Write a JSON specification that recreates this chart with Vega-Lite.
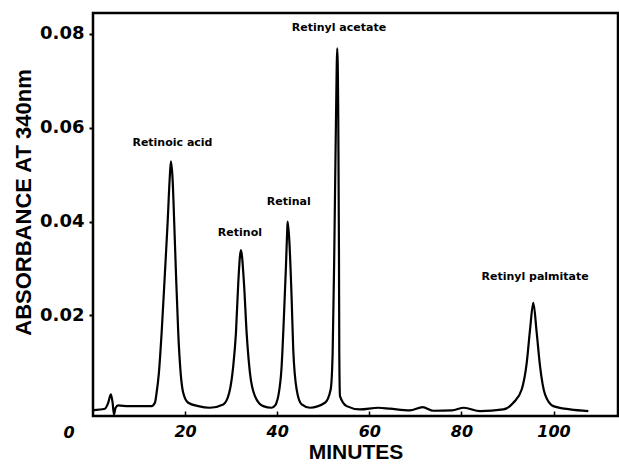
{
  "$schema": "https://vega.github.io/schema/vega-lite/v6.json",
  "width": 525,
  "height": 403,
  "autosize": {"type": "none"},
  "padding": {"left": 93, "top": 13, "right": 1, "bottom": 48},
  "background": "white",
  "config": {
    "view": {"stroke": "black", "strokeWidth": 2.5},
    "axis": {"grid": false, "domain": false}
  },
  "layer": [
    {
      "data": {
        "values": [
          {"t": 0.04, "a": -0.00015}, {"t": 2.58, "a": 0.00015}, {"t": 3.3, "a": 0.00142},
          {"t": 3.89, "a": 0.00319}, {"t": 4.26, "a": 0.00142}, {"t": 4.54, "a": -0.00106},
          {"t": 4.91, "a": 0.00036}, {"t": 5.47, "a": 0.00085}, {"t": 7.65, "a": 0.0007},
          {"t": 12.73, "a": 0.0007}, {"t": 13.44, "a": 0.00142}, {"t": 13.81, "a": 0.00355},
          {"t": 14.31, "a": 0.0078}, {"t": 14.9, "a": 0.0163}, {"t": 15.62, "a": 0.0291},
          {"t": 16.2, "a": 0.0397}, {"t": 16.64, "a": 0.0489}, {"t": 16.92, "a": 0.0528},
          {"t": 17.29, "a": 0.0489}, {"t": 17.64, "a": 0.0397}, {"t": 18.01, "a": 0.0291},
          {"t": 18.51, "a": 0.0163}, {"t": 19.03, "a": 0.0078}, {"t": 19.59, "a": 0.00355},
          {"t": 20.68, "a": 0.00142}, {"t": 22.85, "a": 0.0007}, {"t": 25.39, "a": 0.00036},
          {"t": 28.28, "a": 0.00106}, {"t": 29.58, "a": 0.00355}, {"t": 30.45, "a": 0.0092},
          {"t": 31.04, "a": 0.0163}, {"t": 31.54, "a": 0.0269}, {"t": 32.12, "a": 0.0339},
          {"t": 32.78, "a": 0.0269}, {"t": 33.36, "a": 0.0163}, {"t": 34.08, "a": 0.0078},
          {"t": 35.17, "a": 0.00283}, {"t": 36.97, "a": 0.0007}, {"t": 38.79, "a": 0.00036},
          {"t": 39.6, "a": 0.0009}, {"t": 39.9, "a": 0.0016}, {"t": 40.23, "a": 0.00283},
          {"t": 40.96, "a": 0.0092}, {"t": 41.46, "a": 0.0198}, {"t": 41.9, "a": 0.0305},
          {"t": 42.18, "a": 0.0383}, {"t": 42.27, "a": 0.04}, {"t": 42.62, "a": 0.0361},
          {"t": 43.14, "a": 0.0234}, {"t": 43.48, "a": 0.0128}, {"t": 44.22, "a": 0.00425},
          {"t": 45.31, "a": 0.00106}, {"t": 47.11, "a": 0.00036}, {"t": 50.37, "a": 0.00142},
          {"t": 51.61, "a": 0.00425}, {"t": 52.04, "a": 0.0121}, {"t": 52.39, "a": 0.0333},
          {"t": 52.76, "a": 0.0617}, {"t": 53.04, "a": 0.0769}, {"t": 53.26, "a": 0.0617},
          {"t": 53.41, "a": 0.0333}, {"t": 53.48, "a": 0.0121}, {"t": 53.63, "a": 0.00283},
          {"t": 55.08, "a": 0.0007}, {"t": 57.97, "a": 0.0}, {"t": 61.95, "a": 0.00036},
          {"t": 64.49, "a": 0.00015}, {"t": 68.8, "a": -0.0002}, {"t": 71.59, "a": 0.00049},
          {"t": 73.89, "a": -0.00028}, {"t": 77.95, "a": -0.0002}, {"t": 80.56, "a": 0.00036},
          {"t": 84.03, "a": -0.00036}, {"t": 89.1, "a": 0.0}, {"t": 91.27, "a": 0.00142},
          {"t": 93.09, "a": 0.00425}, {"t": 94.18, "a": 0.0099}, {"t": 94.9, "a": 0.017},
          {"t": 95.61, "a": 0.0227}, {"t": 96.35, "a": 0.0163}, {"t": 97.07, "a": 0.0092},
          {"t": 98.15, "a": 0.0032}, {"t": 99.96, "a": 0.0007}, {"t": 103.58, "a": 0.0},
          {"t": 107.56, "a": -0.00036}
        ]
      },
      "mark": {"type": "line", "color": "black", "strokeWidth": 2.2, "strokeJoin": "round", "interpolate": "monotone"},
      "encoding": {
        "x": {
          "field": "t", "type": "quantitative",
          "scale": {"domain": [0, 114], "nice": false, "zero": false},
          "axis": {
            "title": "MINUTES",
            "values": [20, 40, 60, 80, 100],
            "tickSize": -5, "tickWidth": 1.5, "tickColor": "black",
            "labelPadding": 12,
            "labelFont": "DejaVu Sans", "labelFontWeight": "bold", "labelFontStyle": "italic",
            "labelFontSize": 16, "labelColor": "black",
            "titleFont": "Liberation Sans", "titleFontWeight": "bold", "titleFontSize": 21,
            "titleColor": "black", "titlePadding": 2
          }
        },
        "y": {
          "field": "a", "type": "quantitative",
          "scale": {"domain": [-0.0014, 0.0844], "nice": false, "zero": false},
          "axis": {
            "title": "ABSORBANCE AT 340nm",
            "values": [0.02, 0.04, 0.06, 0.08],
            "format": ".2f",
            "tickSize": 4, "tickWidth": 2, "tickColor": "black",
            "labelPadding": 5,
            "labelFont": "DejaVu Sans", "labelFontWeight": "bold", "labelFontSize": 18,
            "labelColor": "black",
            "titleFont": "Liberation Sans", "titleFontWeight": "bold", "titleFontSize": 22,
            "titleColor": "black",
            "titleX": -70, "titleY": 189, "titleAngle": 270,
            "titleAlign": "center", "titleBaseline": "middle"
          }
        }
      }
    },
    {
      "data": {
        "values": [
          {"t": 17.25, "a": 0.0568, "label": "Retinoic acid"},
          {"t": 31.9, "a": 0.0376, "label": "Retinol"},
          {"t": 42.5, "a": 0.0441, "label": "Retinal"},
          {"t": 53.4, "a": 0.0812, "label": "Retinyl acetate"},
          {"t": 96.0, "a": 0.0283, "label": "Retinyl palmitate"}
        ]
      },
      "mark": {"type": "text", "font": "DejaVu Sans", "fontWeight": "bold", "fontSize": 11, "color": "black", "align": "center", "baseline": "middle"},
      "encoding": {
        "x": {"field": "t", "type": "quantitative"},
        "y": {"field": "a", "type": "quantitative"},
        "text": {"field": "label"}
      }
    },
    {
      "data": {"values": [{"t": -5.2, "a": -0.0051, "label": "0"}]},
      "mark": {"type": "text", "font": "DejaVu Sans", "fontWeight": "bold", "fontStyle": "italic", "fontSize": 16, "color": "black", "align": "center", "baseline": "middle", "clip": false},
      "encoding": {
        "x": {"field": "t", "type": "quantitative"},
        "y": {"field": "a", "type": "quantitative"},
        "text": {"field": "label"}
      }
    }
  ]
}
